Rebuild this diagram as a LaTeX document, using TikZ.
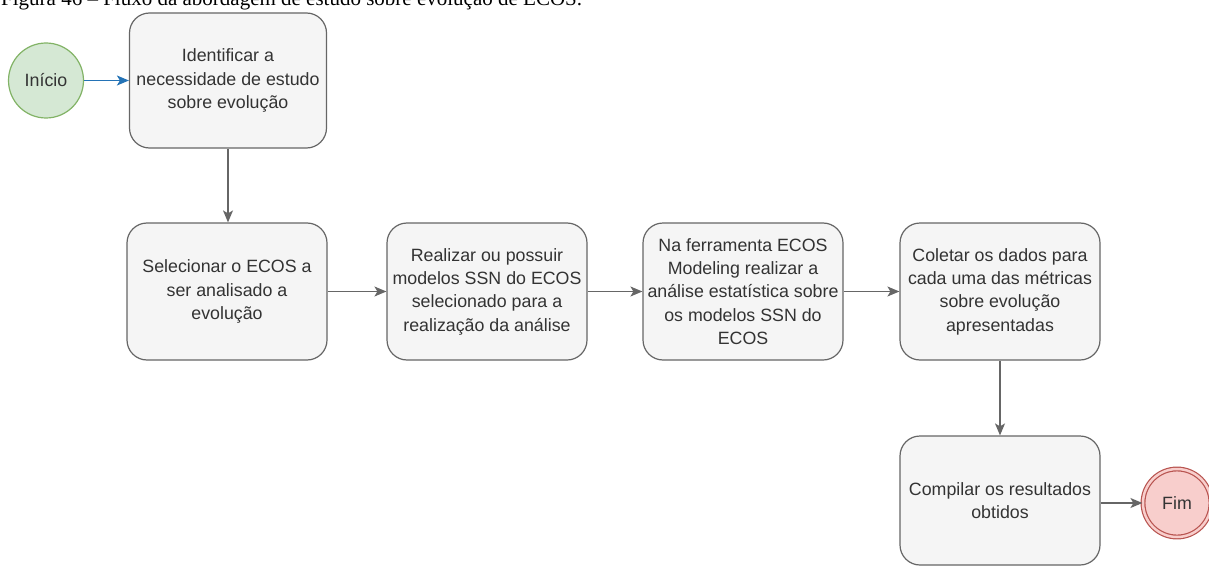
\documentclass[tikz,border=0pt]{standalone}
\usepackage{fontspec}
\setmainfont{Liberation Sans}
\newfontfamily\capfont{Liberation Serif}
\usetikzlibrary{arrows.meta}
\definecolor{boxfill}{HTML}{F5F5F5}
\definecolor{boxline}{HTML}{666666}
\definecolor{txt}{HTML}{333333}
\definecolor{startfill}{HTML}{D5E8D4}
\definecolor{startline}{HTML}{82B366}
\definecolor{endfill}{HTML}{F8CECC}
\definecolor{endline}{HTML}{B85450}
\definecolor{flowblue}{HTML}{2473B6}
\tikzset{
  stepbox/.style={draw=boxline, fill=boxfill, line width=1.2pt, rounded corners=20pt,
    minimum width=200pt, minimum height=137pt, inner sep=0pt, align=center,
    text=txt, font=\fontsize{17.8}{23.3}\selectfont},
  startnode/.style={circle, draw=startline, fill=startfill, line width=1.2pt,
    minimum size=75pt, inner sep=0pt, text=txt, font=\fontsize{17.8}{23.3}\selectfont},
  endnode/.style={circle, draw=endline, fill=endfill, line width=1.2pt, double=endfill,
    double distance=2.5pt, minimum size=68pt, inner sep=0pt, text=txt,
    font=\fontsize{17.8}{23.3}\selectfont},
  flow/.style={draw=boxline, line width=1.3pt,
    -{Stealth[length=12pt, width=10pt, inset=3pt]}},
  startflow/.style={flow, draw=flowblue},
}
\begin{document}
\begin{tikzpicture}[x=1pt, y=-1pt]
\useasboundingbox (0,0) rectangle (1209,567);

% figure caption, partly above the page edge
\node[anchor=base west, inner sep=0pt, font=\capfont\fontsize{21}{25}\selectfont] (cap) at (1,6)
  {Figura 46 – Fluxo da abordagem de estudo sobre evolução de ECOS.};

% process steps
\node[startnode] (ini) at (46,80.5) {Início};
\node[stepbox, minimum width=197pt, minimum height=135pt] (b1) at (228,80.5)
  {Identificar a\\necessidade de estudo\\sobre evolução};
\node[stepbox] (b2) at (227,291.5) {Selecionar o ECOS a\\ser analisado a\\evolução};
\node[stepbox] (b3) at (487,291.5) {Realizar ou possuir\\modelos SSN do ECOS\\selecionado para a\\realização da análise};
\node[stepbox] (b4) at (743,291.5) {Na ferramenta ECOS\\Modeling realizar a\\análise estatística sobre\\os modelos SSN do\\ECOS};
\node[stepbox] (b5) at (1000,291.5) {Coletar os dados para\\cada uma das métricas\\sobre evolução\\apresentadas};
\node[stepbox, minimum height=129pt] (b6) at (1000,500.5) {Compilar os resultados\\obtidos};
\node[endnode] (fim) at (1177,503) {Fim};

% connectors
\draw[startflow] (ini) -- (b1.west |- ini);
\draw[flow] (b1.south) -- (b1.south |- b2.north);
\draw[flow] (b2) -- (b3);
\draw[flow] (b3) -- (b4);
\draw[flow] (b4) -- (b5);
\draw[flow] (b5) -- (b6);
\draw[flow] (b6.east |- fim) -- (fim.west);
\end{tikzpicture}
\end{document}
